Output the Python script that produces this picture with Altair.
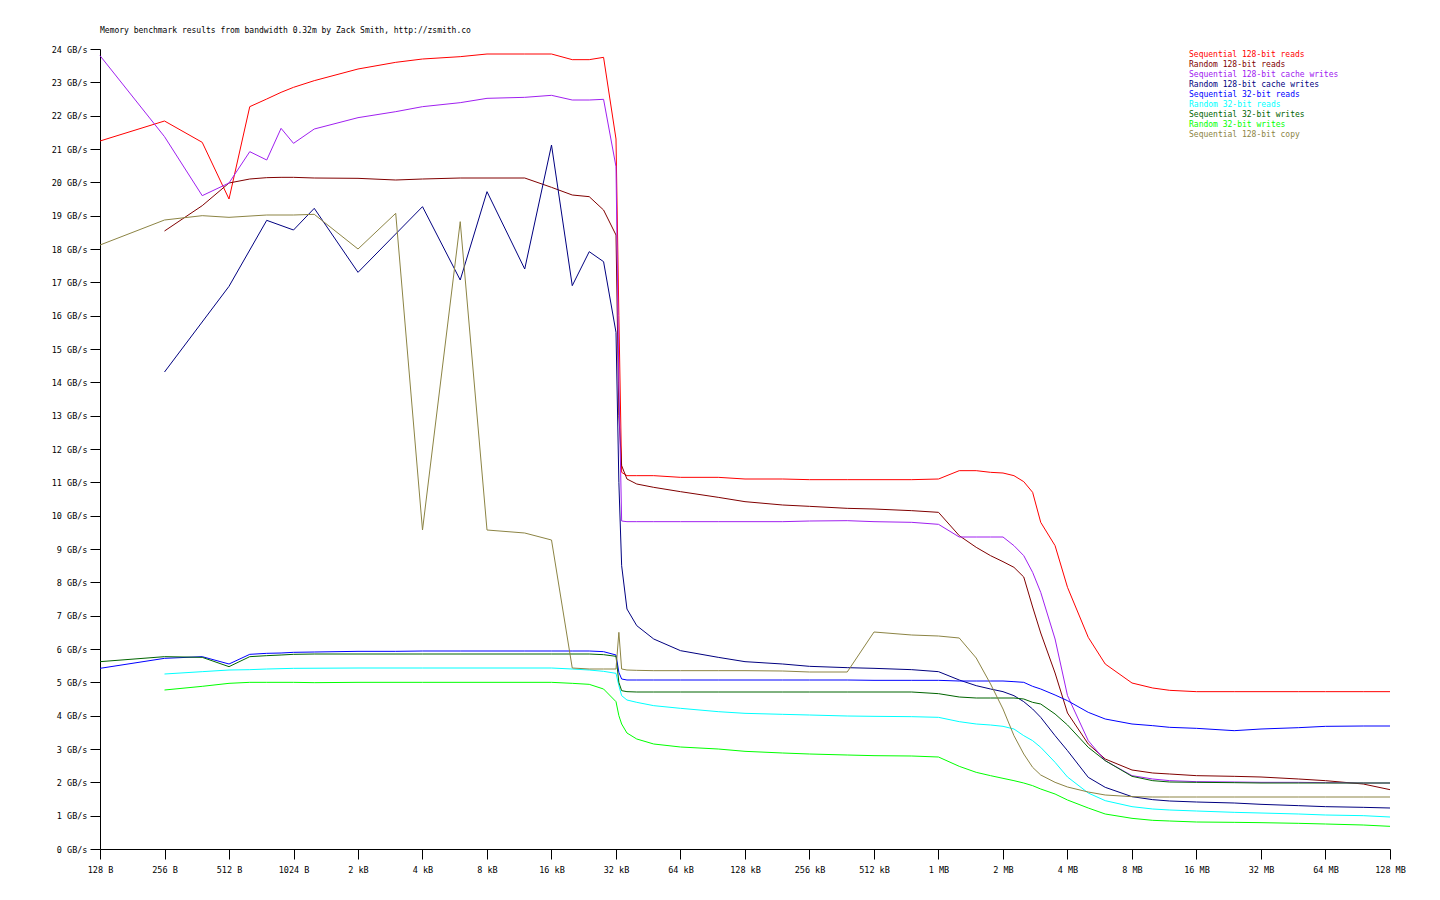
import altair as alt
import pandas as pd

# ---------------- data ----------------
series_names = [
    "Sequential 128-bit reads",
    "Random 128-bit reads",
    "Sequential 128-bit cache writes",
    "Random 128-bit cache writes",
    "Sequential 32-bit reads",
    "Random 32-bit reads",
    "Sequential 32-bit writes",
    "Random 32-bit writes",
    "Sequential 128-bit copy",
]
series_colors = ["#ff0000", "#800000", "#a020f0", "#000080", "#0000ff",
                 "#00ffff", "#006400", "#00ff00", "#8c8444"]

# chunk sizes (bytes) shared by all series above 32 kB
tail_sizes = [34816, 36864, 40960, 49152, 65536, 98304, 131072, 196608, 262144,
              393216, 524288, 786432, 1048576, 1310720, 1572864, 1835008, 2097152,
              2359296, 2621440, 2883584, 3145728, 3670016, 4194304, 5242880,
              6291456, 8388608, 10485760, 12582912, 16777216, 25165824, 33554432,
              50331648, 67108864, 100663296, 134217728]

# --- Sequential 128-bit reads
seq128r_sizes = [128, 256, 384, 512, 640, 768, 896, 1024, 1280, 2048, 3072, 4096,
                 6144, 8192, 12288, 16384, 20480, 24576, 28672, 32768, 33792]
seq128r_front = [21.24, 21.84, 21.2, 19.5, 22.27, 22.5, 22.7, 22.85, 23.05, 23.4, 23.6,
                 23.7, 23.77, 23.85, 23.85, 23.85, 23.68, 23.68, 23.75, 21.3, 16.0]
seq128r_tail = [11.3, 11.2, 11.2, 11.2, 11.15, 11.15, 11.1, 11.1, 11.08, 11.08, 11.08,
                11.08, 11.1, 11.35, 11.35, 11.3, 11.28, 11.2, 11.02, 10.7, 9.8, 9.1,
                7.85, 6.35, 5.55, 4.98, 4.83, 4.76, 4.72, 4.72, 4.72, 4.72, 4.72,
                4.72, 4.72]

# --- Random 128-bit reads
rnd128r_sizes = [256, 384, 512, 640, 768, 896, 1024, 1280, 2048, 3072, 4096, 6144,
                 8192, 12288, 16384, 20480, 24576, 28672, 32768, 33792]
rnd128r_front = [18.54, 19.3, 19.98, 20.1, 20.14, 20.15, 20.15, 20.13, 20.12, 20.07,
                 20.1, 20.13, 20.13, 20.13, 19.85, 19.62, 19.57, 19.17, 18.42, 13.0]
rnd128r_tail = [11.5, 11.1, 10.95, 10.85, 10.72, 10.55, 10.42, 10.32, 10.28, 10.22,
                10.2, 10.15, 10.1, 9.4, 9.05, 8.8, 8.62, 8.45, 8.16, 7.26, 6.48, 5.28,
                4.08, 3.15, 2.7, 2.37, 2.28, 2.25, 2.2, 2.18, 2.16, 2.1, 2.05, 1.95,
                1.78]

# --- Sequential 128-bit cache writes
seq128w_sizes = [128, 256, 384, 512, 640, 768, 896, 1024, 1280, 2048, 3072, 4096,
                 6144, 8192, 12288, 16384, 20480, 24576, 28672, 32768, 33792]
seq128w_front = [23.8, 21.37, 19.6, 19.98, 20.92, 20.67, 21.62, 21.17, 21.6, 21.94,
                 22.12, 22.27, 22.39, 22.52, 22.55, 22.61, 22.47, 22.47, 22.49, 20.47,
                 14.0]
seq128w_tail = [9.84, 9.82, 9.82, 9.82, 9.82, 9.82, 9.82, 9.82, 9.84, 9.85, 9.82,
                9.8, 9.74, 9.36, 9.36, 9.36, 9.36, 9.1, 8.8, 8.3, 7.7, 6.3, 4.6, 3.25,
                2.65, 2.2, 2.1, 2.05, 2.02, 2.01, 2.0, 2.0, 1.99, 1.98, 1.98]

# --- Random 128-bit cache writes
rnd128w_sizes = [256, 512, 768, 1024, 1280, 2048, 4096, 6144, 8192, 12288, 16384,
                 20480, 24576, 28672, 32768, 33792]
rnd128w_front = [14.31, 16.88, 18.86, 18.57, 19.22, 17.3, 19.27, 17.07, 19.72, 17.4,
                 21.12, 16.9, 17.92, 17.62, 15.5, 11.0]
rnd128w_tail = [8.5, 7.2, 6.7, 6.3, 5.95, 5.75, 5.62, 5.55, 5.48, 5.44, 5.42, 5.38,
                5.32, 5.07, 4.9, 4.8, 4.72, 4.6, 4.42, 4.2, 3.95, 3.4, 2.95, 2.15,
                1.85, 1.57, 1.48, 1.44, 1.41, 1.38, 1.34, 1.3, 1.27, 1.25, 1.23]

# --- Sequential 32-bit reads
seq32r_sizes = [128, 256, 384, 512, 640, 768, 896, 1024, 1280, 2048, 3072, 4096,
                6144, 8192, 12288, 16384, 20480, 24576, 28672, 32768, 33792]
seq32r_front = [5.42, 5.72, 5.77, 5.55, 5.84, 5.87, 5.88, 5.9, 5.91, 5.93, 5.93,
                5.94, 5.94, 5.94, 5.94, 5.94, 5.94, 5.94, 5.92, 5.82, 5.3]
seq32r_tail = [5.1, 5.07, 5.07, 5.07, 5.07, 5.07, 5.07, 5.07, 5.07, 5.07, 5.06, 5.06,
               5.06, 5.04, 5.04, 5.04, 5.04, 5.02, 5.0, 4.88, 4.8, 4.62, 4.45, 4.1,
               3.9, 3.75, 3.7, 3.65, 3.62, 3.55, 3.6, 3.64, 3.68, 3.69, 3.69]

# --- Random 32-bit reads
rnd32r_sizes = [256, 384, 512, 640, 768, 1024, 2048, 4096, 8192, 16384, 20480, 24576,
                28672, 32768, 33792]
rnd32r_front = [5.25, 5.32, 5.37, 5.38, 5.4, 5.42, 5.43, 5.43, 5.43, 5.43, 5.4, 5.37,
                5.33, 5.27, 4.9]
rnd32r_tail = [4.6, 4.47, 4.4, 4.3, 4.22, 4.12, 4.07, 4.04, 4.02, 3.99, 3.98, 3.97,
               3.95, 3.82, 3.75, 3.72, 3.68, 3.6, 3.4, 3.25, 3.05, 2.6, 2.16, 1.68,
               1.45, 1.27, 1.2, 1.17, 1.14, 1.1, 1.08, 1.05, 1.02, 1.0, 0.96]

# --- Sequential 32-bit writes
seq32w_sizes = [128, 256, 384, 512, 640, 768, 896, 1024, 1280, 2048, 4096, 8192,
                16384, 24576, 28672, 32768, 33792]
seq32w_front = [5.62, 5.77, 5.75, 5.47, 5.77, 5.8, 5.82, 5.84, 5.85, 5.85, 5.85,
                5.85, 5.85, 5.85, 5.83, 5.78, 5.0]
seq32w_tail = [4.75, 4.72, 4.71, 4.71, 4.71, 4.71, 4.71, 4.71, 4.71, 4.71, 4.71,
               4.71, 4.66, 4.56, 4.53, 4.53, 4.53, 4.53, 4.5, 4.4, 4.35, 4.05, 3.72,
               3.05, 2.65, 2.18, 2.05, 2.01, 2.0, 1.99, 1.98, 1.98, 1.98, 1.98, 1.98]

# --- Random 32-bit writes
rnd32w_sizes = [256, 384, 512, 640, 768, 1024, 1280, 2048, 4096, 8192, 16384, 20480,
                24576, 28672, 32768, 33792]
rnd32w_front = [4.77, 4.88, 4.97, 5.0, 5.0, 5.0, 4.99, 5.0, 5.0, 5.0, 5.0, 4.97,
                4.94, 4.8, 4.42, 4.0]
rnd32w_tail = [3.75, 3.48, 3.3, 3.15, 3.06, 3.0, 2.93, 2.88, 2.85, 2.82, 2.8, 2.79,
               2.76, 2.48, 2.3, 2.2, 2.12, 2.05, 1.98, 1.9, 1.8, 1.65, 1.47, 1.23,
               1.05, 0.92, 0.86, 0.84, 0.81, 0.8, 0.79, 0.77, 0.75, 0.72, 0.68]

# --- Sequential 128-bit copy
seq128c_sizes = [128, 256, 384, 512, 768, 1024, 1280, 2048, 3072, 4096, 6144, 8192,
                 12288, 16384, 20480, 24576, 28672, 32768, 33792]
seq128c_front = [18.12, 18.87, 19.0, 18.95, 19.02, 19.02, 19.04, 18.0, 19.07, 9.57,
                 18.82, 9.57, 9.48, 9.27, 5.43, 5.4, 5.4, 5.4, 6.5]
seq128c_tail = [5.4, 5.37, 5.36, 5.35, 5.35, 5.35, 5.35, 5.34, 5.31, 5.31, 6.51, 6.42,
                6.39, 6.33, 5.73, 4.95, 4.2, 3.4, 2.85, 2.45, 2.22, 2.0, 1.86, 1.71,
                1.62, 1.57, 1.56, 1.56, 1.56, 1.56, 1.56, 1.56, 1.56, 1.56, 1.56]

tick_values = [128, 256, 512, 1024, 2048, 4096, 8192, 16384, 32768, 65536, 131072,
               262144, 524288, 1048576, 2097152, 4194304, 8388608, 16777216,
               33554432, 67108864, 134217728]
tick_labels = ["128 B", "256 B", "512 B", "1024 B", "2 kB", "4 kB", "8 kB", "16 kB",
               "32 kB", "64 kB", "128 kB", "256 kB", "512 kB", "1 MB", "2 MB", "4 MB",
               "8 MB", "16 MB", "32 MB", "64 MB", "128 MB"]
y_ticks = list(range(0, 25))

title_text = "Memory benchmark results from bandwidth 0.32m by Zack Smith, http://zsmith.co"

# ---------------- build table ----------------
parts = [
    (seq128r_sizes, seq128r_front, seq128r_tail),
    (rnd128r_sizes, rnd128r_front, rnd128r_tail),
    (seq128w_sizes, seq128w_front, seq128w_tail),
    (rnd128w_sizes, rnd128w_front, rnd128w_tail),
    (seq32r_sizes, seq32r_front, seq32r_tail),
    (rnd32r_sizes, rnd32r_front, rnd32r_tail),
    (seq32w_sizes, seq32w_front, seq32w_tail),
    (rnd32w_sizes, rnd32w_front, rnd32w_tail),
    (seq128c_sizes, seq128c_front, seq128c_tail),
]
rows = []
for name, (sz, fr, tl) in zip(series_names, parts):
    for s, v in zip(list(sz) + tail_sizes, list(fr) + tl):
        rows.append({"series": name, "size": s, "gbps": v})
df = pd.DataFrame(rows)

FONT = "DejaVu Sans Mono"
label_expr = "[" + ",".join("'%s'" % t for t in tick_labels) + "][indexof([" + \
    ",".join(str(v) for v in tick_values) + "], datum.value)]"

chart = alt.Chart(df).mark_line(strokeWidth=1, interpolate="linear").encode(
    x=alt.X("size:Q",
            scale=alt.Scale(type="log", base=2, domain=[128, 134217728], nice=False),
            axis=alt.Axis(values=tick_values, labelExpr=label_expr, title=None,
                          grid=False, tickSize=10, labelPadding=6, labelFlush=False,
                          labelOverlap=False, labelFont=FONT, labelFontSize=8.5,
                          domainColor="black", tickColor="black", labelColor="black")),
    y=alt.Y("gbps:Q",
            scale=alt.Scale(domain=[0, 24], nice=False, zero=True),
            axis=alt.Axis(values=y_ticks, labelExpr="datum.value + ' GB/s'",
                          title=None, grid=False, tickSize=10, labelPadding=3,
                          labelFont=FONT, labelFontSize=8.5,
                          domainColor="black", tickColor="black", labelColor="black")),
    color=alt.Color("series:N",
                    scale=alt.Scale(domain=series_names, range=series_colors),
                    legend=alt.Legend(title=None, orient="none", legendX=1081,
                                      legendY=2, symbolSize=0, symbolOpacity=0,
                                      symbolStrokeWidth=0, labelOffset=0,
                                      labelFont=FONT, labelFontSize=8,
                                      rowPadding=2, padding=0,
                                      labelColor=alt.ExprRef("scale('color', datum.value)"))),
    detail="series:N",
).properties(
    width=1290,
    height=800,
    background="white",
    title=alt.TitleParams(title_text, anchor="start", frame="group", font=FONT,
                          fontSize=8, fontWeight="normal", color="black", offset=10),
    autosize=alt.AutoSizeParams(type="none"),
    padding={"left": 92, "top": 41, "right": 34, "bottom": 50},
).configure_view(
    stroke="transparent", strokeWidth=0
).configure_axis(
    domainColor="black", tickColor="black", labelColor="black",
    domainWidth=1, tickWidth=1
)

chart.save("out.html", embed_options={"renderer": "svg", "actions": False})
